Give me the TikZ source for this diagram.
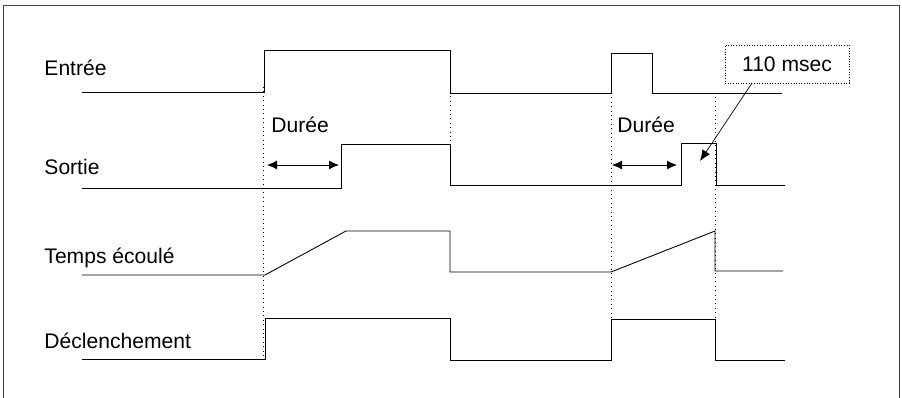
\documentclass[tikz,border=0pt]{standalone}
\usepackage{fontspec}
\setmainfont{Liberation Sans}
\usetikzlibrary{arrows.meta}

\begin{document}
\begin{tikzpicture}[x=0.02cm, y=-0.02cm, line width=0.5pt,
  every node/.style={inner sep=0pt, font=\fontsize{12}{14}\selectfont},
  siglabel/.style={anchor=base west},
  marker/.style={dotted, line width=0.5pt},
  span/.style={{Latex[length=2mm,width=1.8mm]}-{Latex[length=2mm,width=1.8mm]}, line width=0.5pt},
  callout/.style={draw, densely dotted, line width=0.5pt, minimum width=124*0.02cm, minimum height=38*0.02cm}]
\useasboundingbox (0,0) rectangle (902,398);
\draw[black!75] (3.5,398) -- (3.5,5) -- (899,5) -- (899,398);

\node[siglabel] (entree) at (44,76) {Entrée};
\node[siglabel] (sortie) at (44,175) {Sortie};
\node[siglabel] (temps) at (44,264) {Temps écoulé};
\node[siglabel] (declen) at (44,348) {Déclenchement};

\draw (82,92) -- (264,92) -- (264,50) -- (450,50) -- (450,93) -- (611,93) -- (611,53) -- (652,53) -- (652,93) -- (782,93);
\draw (82,188) -- (341,188) -- (341,144) -- (450,144) -- (450,185) -- (681,185) -- (681,143) -- (716,143) -- (716,185) -- (785,185);
\draw (82,275) -- (265,275) -- (346,231) -- (450,231) -- (450,272) -- (611,272) -- (715,231) -- (715,271) -- (783,271);
\draw (82,359) -- (265,359) -- (265,318) -- (450,318) -- (450,360) -- (611,360) -- (611,319) -- (715,319) -- (715,360) -- (785,360);

\draw[marker] (263,87) -- (263,360);
\draw[marker] (450,92) -- (450,185);
\draw[marker] (611,93) -- (611,360);
\draw[marker] (715,97) -- (715,360);

\coordinate (d1a) at (267,165);
\coordinate (d1b) at (339,165);
\coordinate (d2a) at (612,165);
\coordinate (d2b) at (677,165);
\draw[span] (d1a) -- (d1b);
\draw[span] (d2a) -- (d2b);
\node[anchor=base west] (duree1) at (271,133) {Durée};
\node[anchor=base west] (duree2) at (617,133) {Durée};

\node[callout] (msec) at (787,64) {110 msec};
\coordinate (tip) at (700,161);
\draw[-{Latex[length=2.2mm,width=1.8mm]}, line width=0.4pt] (752,83) -- (tip);
\end{tikzpicture}
\end{document}
